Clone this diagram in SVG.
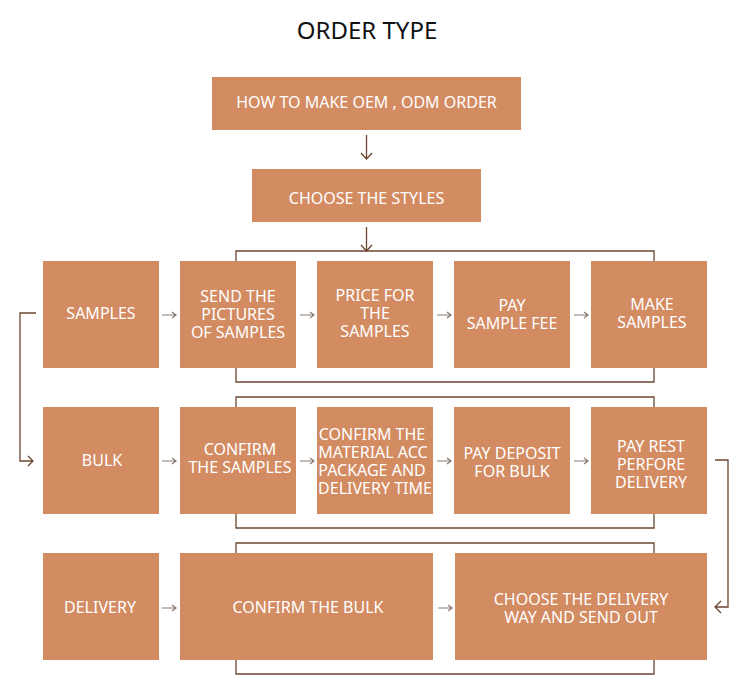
<svg xmlns="http://www.w3.org/2000/svg" width="750" height="687" viewBox="0 0 750 687">
<style>
.box{fill:#d38b62}
.t{font-family:"Noto Sans","Liberation Sans",sans-serif;font-size:16px;fill:#fff;text-anchor:middle}
.title{font-family:"Noto Sans","Liberation Sans",sans-serif;font-size:24px;fill:#111;text-anchor:middle}
.con{fill:none;stroke:#6b4530;stroke-width:1.3}
.sm{fill:none;stroke:#8c7b72;stroke-width:1.2}
</style>
<rect width="750" height="687" fill="#fff"/>
<text class="title" x="367" y="39">ORDER TYPE</text>

<g id="n-how"><rect class="box" x="212" y="77" width="309" height="53"/><text class="t" x="366.5" y="108">HOW TO MAKE OEM , ODM ORDER</text></g>
<g id="n-styles"><rect class="box" x="252" y="169" width="229" height="53"/><text class="t" x="366.5" y="204">CHOOSE THE STYLES</text></g>

<g id="n-samples"><rect class="box" x="43" y="261" width="116" height="107"/><text class="t" x="101" y="319">SAMPLES</text></g>
<g id="n-send"><rect class="box" x="180" y="261" width="116" height="107"/><text class="t" x="238" y="302">SEND THE</text><text class="t" x="238" y="320">PICTURES</text><text class="t" x="238" y="338">OF SAMPLES</text></g>
<g id="n-price"><rect class="box" x="317" y="261" width="116" height="107"/><text class="t" x="375" y="301">PRICE FOR</text><text class="t" x="375" y="319">THE</text><text class="t" x="375" y="337">SAMPLES</text></g>
<g id="n-pay"><rect class="box" x="454" y="261" width="116" height="107"/><text class="t" x="512" y="311">PAY</text><text class="t" x="512" y="329">SAMPLE FEE</text></g>
<g id="n-make"><rect class="box" x="591" y="261" width="116" height="107"/><text class="t" x="652" y="310">MAKE</text><text class="t" x="652" y="328">SAMPLES</text></g>

<g id="n-bulk"><rect class="box" x="43" y="407" width="116" height="107"/><text class="t" x="102" y="466">BULK</text></g>
<g id="n-confirm"><rect class="box" x="180" y="407" width="116" height="107"/><text class="t" x="240" y="455">CONFIRM</text><text class="t" x="240" y="473">THE SAMPLES</text></g>
<g id="n-material"><rect class="box" x="317" y="407" width="116" height="107"/><text class="t" x="372" y="440">CONFIRM THE</text><text class="t" x="373" y="458">MATERIAL ACC</text><text class="t" x="372" y="476">PACKAGE AND</text><text class="t" x="375" y="494">DELIVERY TIME</text></g>
<g id="n-deposit"><rect class="box" x="454" y="407" width="116" height="107"/><text class="t" x="512" y="459">PAY DEPOSIT</text><text class="t" x="512" y="477">FOR BULK</text></g>
<g id="n-rest"><rect class="box" x="591" y="407" width="116" height="107"/><text class="t" x="651" y="452">PAY REST</text><text class="t" x="651" y="470">PERFORE</text><text class="t" x="651" y="488">DELIVERY</text></g>

<g id="n-delivery"><rect class="box" x="43" y="553" width="116" height="107"/><text class="t" x="100" y="613">DELIVERY</text></g>
<g id="n-confirmbulk"><rect class="box" x="180" y="553" width="253" height="107"/><text class="t" x="308" y="613">CONFIRM THE BULK</text></g>
<g id="n-choose"><rect class="box" x="455" y="553" width="252" height="107"/><text class="t" x="581" y="605">CHOOSE THE DELIVERY</text><text class="t" x="581" y="623">WAY AND SEND OUT</text></g>

<g id="connectors">
<path class="con" d="M366.5,135V159M361,153L366.5,159L372,153"/>
<path class="con" d="M366.5,227V251M361,245L366.5,251L372,245"/>
<path class="con" d="M236,261V251H654V261M236,368V382H654V368"/>
<path class="con" d="M236,407V397H654V407M236,514V528H654V514"/>
<path class="con" d="M236,553V543H654V553M236,660V674H654V660"/>
<path class="con" d="M36,313H20V461H33M28,456L33,461L28,466"/>
<path class="con" d="M715,460H728V607H716M721,601L715,607L721,613"/>
<path class="sm" d="M162,315H176M172,312L176,315L172,318"/>
<path class="sm" d="M300,315H314M310,312L314,315L310,318"/>
<path class="sm" d="M437,315H451M447,312L451,315L447,318"/>
<path class="sm" d="M574,315H588M584,312L588,315L584,318"/>
<path class="sm" d="M162,461H176M172,458L176,461L172,464"/>
<path class="sm" d="M300,461H314M310,458L314,461L310,464"/>
<path class="sm" d="M437,461H451M447,458L451,461L447,464"/>
<path class="sm" d="M574,461H588M584,458L588,461L584,464"/>
<path class="sm" d="M162,608H176M172,605L176,608L172,611"/>
<path class="sm" d="M438,608H452M448,605L452,608L448,611"/>
</g>
</svg>
